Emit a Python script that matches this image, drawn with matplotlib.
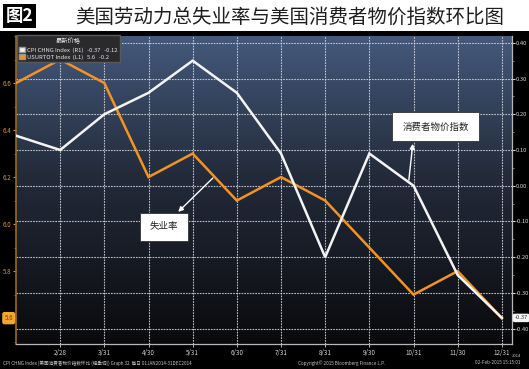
import matplotlib
matplotlib.use("Agg")
import matplotlib.pyplot as plt
import numpy as np
from matplotlib.patches import Rectangle, Patch
from matplotlib.colors import LinearSegmentedColormap
from matplotlib.transforms import blended_transform_factory
from matplotlib.ticker import MultipleLocator

plt.rcParams['font.family'] = ['Noto Sans CJK SC', 'DejaVu Sans']

# ---- data ----
months = ["1/31", "2/28", "3/31", "4/30", "5/31", "6/30", "7/31",
          "8/31", "9/30", "10/31", "11/30", "12/31"]
unemployment = [6.6, 6.7, 6.6, 6.2, 6.3, 6.1, 6.2, 6.1, 5.9, 5.7, 5.8, 5.6]
cpi_mom = [0.14, 0.10, 0.20, 0.26, 0.35, 0.26, 0.09, -0.20, 0.09, 0.00, -0.25, -0.37]
left_ticks = [5.6, 5.8, 6.0, 6.2, 6.4, 6.6]
right_ticks = [-0.4, -0.3, -0.2, -0.1, 0.0, 0.1, 0.2, 0.3, 0.4]
title = "美国劳动力总失业率与美国消费者物价指数环比图"
fig_label = "图2"
ann_unemp = "失业率"
ann_cpi = "消费者物价指数"

W, H = 529, 369
fig = plt.figure(figsize=(W / 100, H / 100), dpi=100)
fig.patch.set_facecolor("white")

# dark Bloomberg panel
fig.add_artist(Rectangle((0, 0), 1, 1 - 31 / H, transform=fig.transFigure,
                         facecolor="black", edgecolor="none", zorder=0))

# title
fig.text(6 / W, 1 - 16 / H, fig_label, color="white", fontsize=12.5, fontweight="bold",
         ha="left", va="center",
         bbox=dict(boxstyle="square,pad=0.15", facecolor="black", edgecolor="none"))
fig.text(75 / W, 1 - 17 / H, title, color="#1e1e1e", fontsize=14,
         ha="left", va="center")

rect = [16 / W, 1 - 344 / H, 496 / W, 308 / H]

# gradient background
bg = fig.add_axes(rect, zorder=0.5)
cmap = LinearSegmentedColormap.from_list(
    "bbg", [(0, "#44597b"), (0.45, "#232b3b"), (1.0, "#0a0a0c")])
bg.imshow(np.linspace(0, 1, 256).reshape(-1, 1), cmap=cmap, aspect="auto",
          extent=[0, 1, 0, 1], origin="upper")
bg.set_xlim(0, 1)
bg.set_ylim(0, 1)
bg.axis("off")

ax = fig.add_axes(rect, zorder=1)
ax.patch.set_visible(False)
ax2 = ax.twinx()
ax2.set_zorder(2)
ax2.patch.set_visible(False)

x = np.arange(len(months))
ax.set_xlim(0, 11.23)
ax.set_ylim(5.49, 6.80)
ax2.set_ylim(-0.443, 0.419)

# grid (vertical at months, horizontal at right-axis ticks)
grid_kw = dict(color="#cdd1da", lw=0.8, ls=(0, (1.5, 1.0)), alpha=0.9, zorder=1)
for xi in x[1:]:
    ax.axvline(xi, **grid_kw)
tr = blended_transform_factory(ax.transAxes, ax2.transData)
for v in right_ticks:
    ax.plot([0, 1], [v, v], transform=tr, **grid_kw)

# lines
ax.plot(x, unemployment, color="#f39322", lw=1.8, zorder=3, solid_joinstyle="miter")
ax2.plot(x, cpi_mom, color="#f4f4f4", lw=1.8, zorder=3, solid_joinstyle="miter")

# left axis styling
ax.set_yticks(left_ticks)
ax.set_yticklabels(["" if v == unemployment[-1] else f"{v:.1f}" for v in left_ticks])
ax.yaxis.set_minor_locator(MultipleLocator(0.1))
ax.tick_params(axis="y", which="major", colors="#e8922a", labelsize=4.5,
               length=2.5, width=0.8, pad=1)
ax.tick_params(axis="y", which="minor", colors="#c27a22", length=1.5, width=0.6)
for s in ["top", "right"]:
    ax.spines[s].set_visible(False)
ax.spines["left"].set_color("#9a6a1c")
ax.spines["left"].set_linewidth(1.2)
ax.spines["bottom"].set_color("#b8b8b8")
ax.spines["bottom"].set_linewidth(0.9)

ax.set_xticks(x[1:])
ax.set_xticklabels(months[1:])
ax.tick_params(axis="x", colors="#d4d4d4", labelsize=4.5, length=2, width=0.6, pad=1.5)

# right axis styling
ax2.set_yticks(right_ticks)
ax2.set_yticklabels([f"{v:.2f}" for v in right_ticks])
ax2.yaxis.set_minor_locator(MultipleLocator(0.05))
ax2.tick_params(axis="y", which="major", colors="#d8d8d8", labelsize=4.2,
                length=2.0, width=0.8, pad=0.8)
ax2.tick_params(axis="y", which="minor", colors="#aaaaaa", length=1.2, width=0.5)
for s in ["top", "left", "bottom"]:
    ax2.spines[s].set_visible(False)
ax2.spines["right"].set_color("#b8b8b8")
ax2.spines["right"].set_linewidth(0.9)

# last-value boxes
trl = blended_transform_factory(ax.transAxes, ax.transData)
ax.text(-0.006, unemployment[-1], f"{unemployment[-1]:.1f}", transform=trl,
        ha="right", va="center", fontsize=4.5, color="#7a3c00", clip_on=False,
        bbox=dict(boxstyle="round,pad=0.35", facecolor="#f5a531", edgecolor="none"))
trr = blended_transform_factory(ax2.transAxes, ax2.transData)
ax2.text(1.005, cpi_mom[-1], f"{cpi_mom[-1]:.2f}", transform=trr,
         ha="left", va="center", fontsize=4.2, color="#333333", clip_on=False,
         bbox=dict(boxstyle="round,pad=0.3", facecolor="#f4f4f4", edgecolor="none"))

# legend
handles = [Patch(facecolor="#f4f4f4", edgecolor="#999999"),
           Patch(facecolor="#f39322", edgecolor="#999999")]
labels = [f"CPI CHNG Index  (R1)   {cpi_mom[-1]:.2f}   {cpi_mom[-1] - cpi_mom[-2]:+.2f}",
          f"USURTOT Index  (L1)   {unemployment[-1]:.1f}   {unemployment[-1] - unemployment[-2]:+.1f}"]
leg = ax2.legend(handles, labels, title="最新价格", loc="upper left",
                 bbox_to_anchor=(-0.003, 1.012), fontsize=4.2, title_fontsize=4.5,
                 facecolor="#2a2a2c", edgecolor="#5a5a5a", framealpha=1,
                 handlelength=0.9, handleheight=0.9, handletextpad=0.4,
                 borderpad=0.35, labelspacing=0.3, fancybox=False)
for t in leg.get_texts():
    t.set_color("#e6e6e6")
leg.get_title().set_color("#f0f0f0")
leg.set_zorder(10)

# annotation boxes
ax2.text(0.298, 0.380, ann_unemp, transform=ax2.transAxes, ha="center", va="center",
         fontsize=6.8, color="#222222",
         bbox=dict(boxstyle="square,pad=1.05", facecolor="white", edgecolor="#333333", lw=0.6),
         zorder=6)
ax2.annotate("", xy=(0.327, 0.429), xytext=(0.397, 0.539),
             xycoords="axes fraction", textcoords="axes fraction",
             arrowprops=dict(arrowstyle="-|>", color="white", lw=1.0,
                             mutation_scale=7, shrinkA=0, shrinkB=0), zorder=6)
ax2.text(0.846, 0.705, ann_cpi, transform=ax2.transAxes, ha="center", va="center",
         fontsize=6.8, color="#222222",
         bbox=dict(boxstyle="square,pad=1.05", facecolor="white", edgecolor="#333333", lw=0.6),
         zorder=6)
ax2.annotate("", xy=(0.800, 0.650), xytext=(0.792, 0.532),
             xycoords="axes fraction", textcoords="axes fraction",
             arrowprops=dict(arrowstyle="-|>", color="white", lw=1.0,
                             mutation_scale=7, shrinkA=0, shrinkB=0), zorder=6)

# footer
fig.text(3 / W, 1 - 363 / H,
         "CPI CHNG Index (美国消费者物价指数环比 (经季调)) Graph 32  每日 01JAN2014-31DEC2014",
         color="#c8c8c8", fontsize=3.3, ha="left", va="center")
fig.text(298 / W, 1 - 363 / H, "Copyright© 2015 Bloomberg Finance L.P.",
         color="#c8c8c8", fontsize=3.3, ha="left", va="center")
fig.text(475 / W, 1 - 363 / H, "02-Feb-2015 15:15:01",
         color="#c8c8c8", fontsize=3.3, ha="left", va="center")
fig.text(512 / W, 1 - 356 / H, "2014", color="#c8c8c8", fontsize=3.0,
         ha="left", va="center")

fig.savefig("out.png", dpi=100, facecolor=fig.get_facecolor())
